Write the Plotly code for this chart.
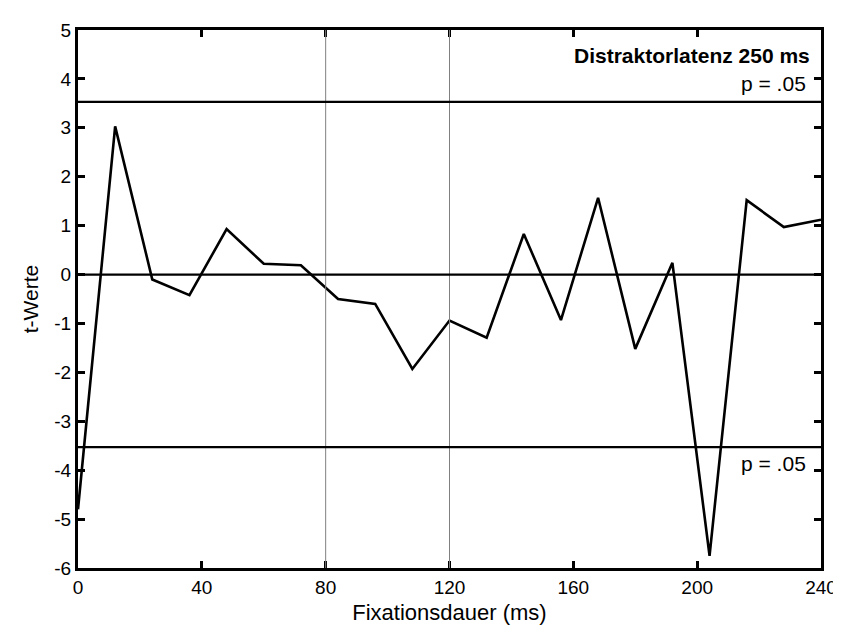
import plotly.graph_objects as go

# t-values per fixation duration bin (ms)
fix_ms = [0, 12, 24, 36, 48, 60, 72, 84, 96, 108, 120, 132, 144, 156, 168,
          180, 192, 204, 216, 228, 240]
t_vals = [-4.8, 3.03, -0.1, -0.42, 0.93, 0.22, 0.19, -0.5, -0.6, -1.93, -0.94,
          -1.29, 0.83, -0.93, 1.57, -1.52, 0.24, -5.75, 1.52, 0.97, 1.12]

t_crit = 3.53          # p = .05 threshold
grey_lines = [80, 120]
x_ticks = [0, 40, 80, 120, 160, 200, 240]
y_ticks = list(range(-6, 6))
y_ticktext = [str(v) for v in y_ticks]   # plain hyphen, not unicode minus

FONT = "Liberation Sans, Arial, sans-serif"

fig = go.Figure()

fig.add_trace(go.Scatter(
    x=fix_ms, y=t_vals, mode="lines",
    line=dict(color="black", width=2.6),
    showlegend=False,
))

for xv in grey_lines:
    fig.add_vline(x=xv, line=dict(color="#808080", width=1))
for yv in (t_crit, 0, -t_crit):
    fig.add_hline(y=yv, line=dict(color="black", width=2.2))

fig.add_annotation(text="<b>Distraktorlatenz 250 ms</b>", xref="paper", x=0.988,
                   yref="y", y=4.48, xanchor="right", yanchor="middle",
                   showarrow=False, font=dict(size=21, color="black", family=FONT))
for yv in (3.91, -3.86):
    fig.add_annotation(text="p = .05", xref="paper", x=0.982,
                       yref="y", y=yv, xanchor="right", yanchor="middle",
                       showarrow=False, font=dict(size=21, color="black", family=FONT))

axis_common = dict(
    showgrid=False, zeroline=False,
    showline=True, linecolor="black", linewidth=3, mirror="ticks",
    ticks="inside", ticklen=7, tickwidth=2.5, tickcolor="black",
    tickfont=dict(size=19, color="black", family=FONT),
)

fig.update_xaxes(range=[0, 240], tickvals=x_ticks,
                 title=dict(text="Fixationsdauer (ms)", standoff=8,
                            font=dict(size=22, color="black", family=FONT)),
                 **axis_common)
fig.update_yaxes(range=[-6, 5], tickvals=y_ticks, ticktext=y_ticktext,
                 title=dict(text="t-Werte", standoff=10,
                            font=dict(size=21, color="black", family=FONT)),
                 **axis_common)

fig.update_layout(
    width=841, height=625,
    margin=dict(l=70, r=23, t=15, b=56),
    plot_bgcolor="white", paper_bgcolor="white",
)

fig.write_html("out.html")
